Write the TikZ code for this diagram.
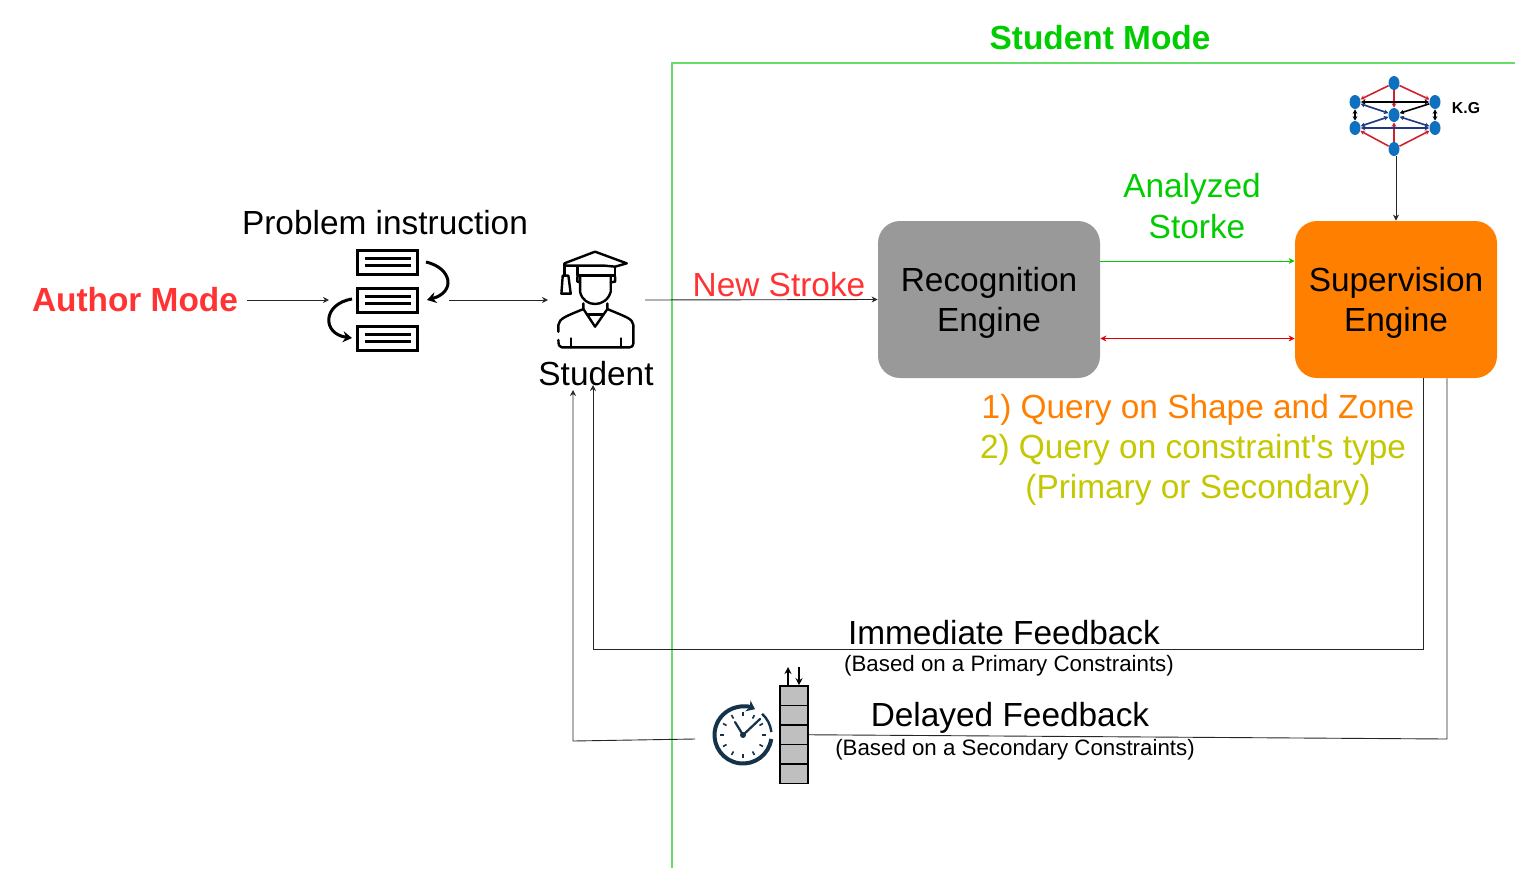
\documentclass[tikz,border=0pt]{standalone}
\usepackage{fontspec}
\usepackage{xcolor}
\usetikzlibrary{shapes.geometric,arrows.meta}
\setmainfont{Liberation Sans}
\definecolor{modered}{HTML}{FF3333}
\definecolor{modegreen}{HTML}{00CC00}
\definecolor{frameline}{HTML}{66DD66}
\definecolor{engineorange}{HTML}{FF8000}
\definecolor{querylime}{HTML}{C4C800}
\definecolor{enginegray}{HTML}{999999}
\definecolor{clockblue}{HTML}{14324A}
\definecolor{kgblue}{HTML}{0F70C0}
\definecolor{kgred}{HTML}{D0222E}
\definecolor{kgnavy}{HTML}{1F3A80}
\newcommand{\enginedrop}{\rule{0pt}{15.6pt}}
\tikzset{
    big-label/.style = {font=\fontsize{16.7}{20}\selectfont, inner sep=0pt},
    small-label/.style = {font=\fontsize{11.15}{13}\selectfont, inner sep=0pt},
    bold-label/.style = {font=\fontsize{16.7}{20}\selectfont\bfseries, inner sep=0pt},
    engine-box/.style = {big-label, rectangle, rounded corners=11pt, align=center, minimum height=78.5pt},
    flow/.style = {-{Stealth[length=3pt,width=3pt]}, draw=black!85, line width=0.45pt},
    both-flow/.style = {{Stealth[length=3pt,width=3pt]}-{Stealth[length=3pt,width=3pt]}, line width=0.45pt},
    icon-line/.style = {line width=1.2pt, line join=round, line cap=round},
    doc-row/.style = {draw=black, line width=1.5pt, minimum width=30pt, minimum height=12pt, inner sep=0pt},
    queue-cell/.style = {draw=black, fill=black!25, line width=0.8pt, minimum width=14pt, minimum height=9.75pt, inner sep=0pt},
    kg-node/.style = {ellipse, fill=kgblue, minimum width=5.5pt, minimum height=7pt, inner sep=0pt},
    kg-edge/.style = {-{Stealth[length=2.2pt,width=2.4pt]}, line width=0.8pt},
    kg-both/.style = {{Stealth[length=2.2pt,width=2.4pt]}-{Stealth[length=2.2pt,width=2.4pt]}, line width=0.8pt},
}

\begin{document}
\begin{tikzpicture}[x=0.5pt, y=-0.5pt]
\useasboundingbox (0,0) rectangle (1515,868);

% student mode frame
\draw[frameline, line width=0.6pt] (672,868) -- (672,63) -- (1515,63);
\node[bold-label, text=modegreen] (student-mode) at (1100,38) {Student Mode};

% left part
\node[bold-label, text=modered] (author) at (135,300) {Author Mode};
\node[big-label] (problem) at (385,223) {Problem instruction};
\node[doc-row] (doc-a) at (387.5,262) {};
\node[doc-row] (doc-b) at (387.5,300) {};
\node[doc-row] (doc-c) at (387.5,338) {};
\foreach \d in {doc-a,doc-b,doc-c} {
    \draw[black, line width=1.2pt] ([xshift=-11.5pt,yshift=1.8pt]\d.center) -- ([xshift=11.5pt,yshift=1.8pt]\d.center);
    \draw[black, line width=1.2pt] ([xshift=-11.5pt,yshift=-1.8pt]\d.center) -- ([xshift=11.5pt,yshift=-1.8pt]\d.center);
}
\draw[-{Stealth[length=4.5pt,width=5.5pt]}, line width=1.5pt] (426,262) .. controls (452,268) and (456,292) .. (427,300);
\draw[-{Stealth[length=4.5pt,width=5.5pt]}, line width=1.5pt] (352,299) .. controls (322,304) and (322,334) .. (352,338);

% student icon
\begin{scope}[shift={(320,235)}, x=0.1667pt, y=-0.1667pt]
\draw[icon-line, fill=white] (733,85) -- (825,50) -- (920,85) -- (885,95) -- (855,92) -- (775,92) -- (733,92) -- cycle;
\draw[icon-line] (772,95) -- (772,122) -- (885,122) -- (885,95);
\draw[icon-line] (780,125) -- (780,170) .. controls (785,195) and (805,207) .. (825,207) .. controls (845,207) and (865,195) .. (872,170) -- (872,125);
\draw[icon-line] (772,125) -- (772,140) -- (780,142);
\draw[icon-line] (885,125) -- (885,140) -- (872,142);
\draw[icon-line] (733,92) -- (733,122);
\draw[icon-line] (728,122) -- (745,122) -- (752,176) -- (724,176) -- cycle;
\draw[icon-line] (790,205) -- (790,222) -- (825,275) -- (862,222) -- (862,205);
\draw[icon-line] (803,238) -- (848,238);
\draw[icon-line] (715,290) -- (715,270) .. controls (718,250) and (735,245) .. (790,222);
\draw[icon-line] (862,222) .. controls (915,245) and (938,250) .. (940,270) -- (940,325) .. controls (940,333) and (935,337) .. (928,337) -- (725,337) .. controls (718,337) and (715,330) .. (715,315);
\draw[icon-line] (752,310) -- (752,337);
\draw[icon-line] (903,310) -- (903,337);
\end{scope}
\node[big-label, fill=white, inner xsep=2pt, inner ysep=1pt] (student) at (596,374) {Student};

% engines
\node[engine-box, fill=enginegray, minimum width=111pt] (recognition) at (989,299.5) {\enginedrop Recognition\\Engine};
\node[engine-box, fill=engineorange, minimum width=101pt] (supervision) at (1396,299.5) {\enginedrop Supervision\\Engine};
\node[big-label, text=modered] (new-stroke) at (779,285) {New Stroke};
\node[big-label, text=modegreen] (analyzed) at (1192,189) {Analyzed};
\node[big-label, text=modegreen] (storke) at (1197,227) {Storke};
\node[big-label, text=engineorange] (query-a) at (1198,410) {1) Query on Shape and Zone};
\node[big-label, text=querylime] (query-b) at (1193,450) {2) Query on constraint\textquotesingle s type};
\node[big-label, text=querylime] (query-c) at (1198,490) {(Primary or Secondary)};

% connectors of the top row
\draw[flow] (author.east) ++(4.5pt,0) -- (doc-b.west -| 329,299);
\draw[flow] (449,300) -- (548,300);
\draw[flow] (645,300) -- (recognition.west);
\draw[flow, draw=modegreen, color=modegreen] ([yshift=19.25pt]recognition.east) -- ([yshift=19.25pt]supervision.west);
\draw[both-flow, color=red!90!black] ([yshift=-19.5pt]recognition.east) -- ([yshift=-19.5pt]supervision.west);

% K.G
\node[kg-node] (kg-top) at (1394,83) {};
\node[kg-node] (kg-lu) at (1355,102) {};
\node[kg-node] (kg-ru) at (1435,102) {};
\node[kg-node] (kg-mid) at (1394,115) {};
\node[kg-node] (kg-ll) at (1355,128) {};
\node[kg-node] (kg-rl) at (1435,128) {};
\node[kg-node] (kg-bot) at (1394,149) {};
\foreach \a/\b in {kg-top/kg-lu, kg-top/kg-ru, kg-top/kg-mid, kg-bot/kg-ll, kg-bot/kg-rl, kg-bot/kg-mid}
    \draw[kg-edge, kgred] (\a) -- (\b);
\foreach \a/\b in {kg-lu/kg-mid, kg-ll/kg-mid, kg-rl/kg-mid, kg-ll/kg-rl}
    \draw[kg-both, kgnavy] (\a) -- (\b);
\foreach \a/\b in {kg-lu/kg-ru, kg-lu/kg-ll, kg-ru/kg-rl}
    \draw[kg-both, black] (\a) -- (\b);
\draw[kg-edge, black] (kg-ru) -- (kg-mid);
\node[font=\fontsize{7.9}{9}\selectfont\bfseries, inner sep=0pt] (kg-label) at (1466,108.5) {K.G};
\draw[flow] (kg-bot.south -| supervision.north) -- (supervision.north);

% feedback
\node[big-label] (immediate) at (1004,632.5) {Immediate Feedback};
\node[small-label] (immediate-note) at (1009,666) {(Based on a Primary Constraints)};
\node[big-label] (delayed) at (1010,718) {Delayed Feedback};
\node[small-label] (delayed-note) at (1015,750) {(Based on a Secondary Constraints)};

\foreach \i in {0,...,4}
    \node[queue-cell] (cell-\i) at (794,{695.75+19.5*\i}) {};
\draw[-{Stealth[length=3.5pt,width=3.5pt]}, line width=0.6pt] (cell-0.north -| 788,686) -- (788,667);
\draw[-{Stealth[length=3.5pt,width=3.5pt]}, line width=0.6pt] (799,667) -- (cell-0.north -| 799,686);

% clock
\node[circle, minimum size=31pt, inner sep=0pt] (clock) at (743,735) {};
\draw[clockblue, line width=2pt, -{Stealth[length=4pt,width=6pt]}] (clock.center) ++(8:28.5) arc[start angle=8, end angle=295, radius=28.5];
\draw[clockblue, line width=1.2pt] (clock.center) ++(-48:28.5) arc[start angle=-48, end angle=-6, radius=28.5];
\foreach \t in {0,30,...,330}
    \draw[clockblue, line width=0.8pt] (clock.center) ++(\t:23) -- ++(\t:-4);
\draw[clockblue, line width=1.1pt, line cap=round] (clock.center) -- ++(-8,-13);
\draw[clockblue, line width=1.1pt, line cap=round] (clock.center) -- ++(17,-16);
\fill[clockblue] (clock.center) circle[radius=3];

\coordinate (immediate-corner-r) at (1423,649);
\coordinate (immediate-corner-l) at (593,649);
\coordinate (delayed-corner-r) at (1447,739);
\coordinate (delayed-middle) at (1150,737);
\coordinate (delayed-corner-l) at (573,741);
\draw[flow] ([xshift=13.5pt]supervision.south) -- (immediate-corner-r) -- (immediate-corner-l) -- (593,385);
\draw[draw=black!85, line width=0.45pt] ([xshift=25.5pt]supervision.south) -- (delayed-corner-r) -- (delayed-middle) -- (cell-2.east);
\draw[flow] (695,739) -- (delayed-corner-l) -- (573,390);
\end{tikzpicture}
\end{document}
